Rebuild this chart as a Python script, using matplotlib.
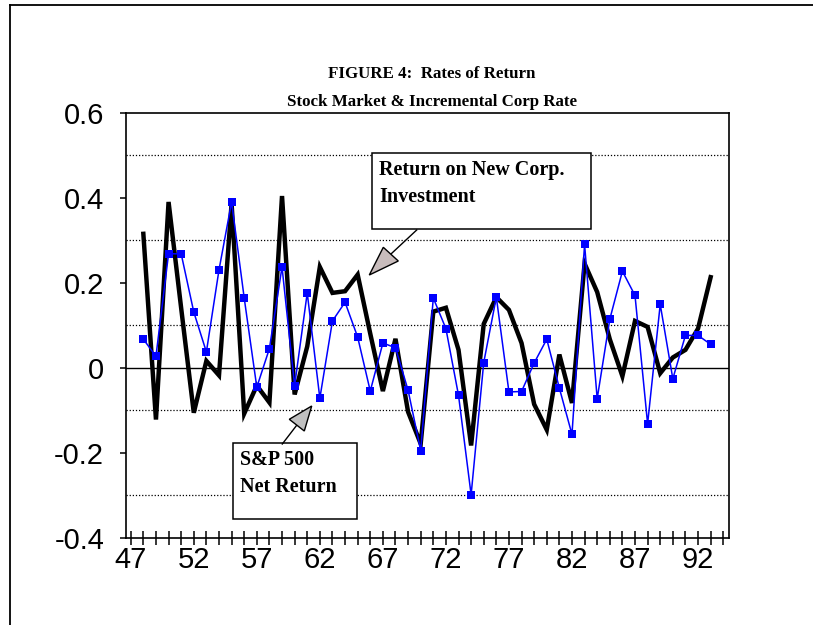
import matplotlib
matplotlib.use("Agg")
import matplotlib.pyplot as plt
from matplotlib.lines import Line2D
from matplotlib.patches import Rectangle, Polygon
from matplotlib.ticker import FixedLocator, MultipleLocator
import numpy as np

years = list(range(48, 94))
sp500_net_return = [0.067, 0.027, 0.268, 0.268, 0.131, 0.037, 0.23, 0.39, 0.164, -0.046,
                    0.045, 0.237, -0.042, 0.176, -0.072,
                    0.11, 0.154, 0.072, -0.055, 0.058, 0.047, -0.053, -0.195, 0.164,
                    0.092, -0.065, -0.299, 0.012, 0.166,
                    -0.057, -0.056, 0.011, 0.067, -0.048, -0.157, 0.29, -0.073, 0.114,
                    0.227, 0.17, -0.132, 0.149, -0.026, 0.076, 0.076, 0.055]
corp_return = [0.315, -0.122, 0.39, 0.14, -0.106, 0.016, -0.018, 0.386, -0.108, -0.042,
               -0.082, 0.404, -0.063, 0.05, 0.237,
               0.176, 0.18, 0.219, 0.08, -0.055, 0.068, -0.104, -0.179, 0.132,
               0.141, 0.042, -0.183, 0.103, 0.166,
               0.136, 0.058, -0.086, -0.146, 0.031, -0.083, 0.245, 0.178, 0.067,
               -0.02, 0.11, 0.096, -0.013, 0.024, 0.042, 0.092, 0.213]
x_labels = [47, 52, 57, 62, 67, 72, 77, 82, 87, 92]
y_ticks = [-0.4, -0.2, 0, 0.2, 0.4, 0.6]
grid_levels = [-0.3, -0.1, 0.1, 0.3, 0.5]

W, H = 813, 625
fig = plt.figure(figsize=(W / 100, H / 100), dpi=100)

def fx(px):
    return px / W

def fy(py):
    return 1 - py / H

ax = fig.add_axes([fx(125.7), fy(537.7), fx(729.3) - fx(125.7), fy(112.7) - fy(537.7)])
ax.set_xlim(46.6, 94.48)
ax.set_ylim(-0.4, 0.6)

for g in grid_levels:
    ax.axhline(g, color="black", lw=0.9, ls=(0, (1, 1.5)), zorder=1)
ax.axhline(0, color="black", lw=1.0, zorder=1)

ax.plot(years, corp_return, color="black", lw=3.2, solid_joinstyle="miter", zorder=3)
ax.plot(years, sp500_net_return, color="#0000FF", lw=1.1, marker="s", markersize=5.2,
        markeredgewidth=0, zorder=4)

for s in ax.spines.values():
    s.set_linewidth(1.2)

ax.yaxis.set_major_locator(FixedLocator(y_ticks))
ax.set_yticklabels(["-0.4", "-0.2", "0", "0.2", "0.4", "0.6"])
ax.xaxis.set_major_locator(FixedLocator(x_labels))
ax.xaxis.set_minor_locator(MultipleLocator(1))
ax.set_xticklabels([str(v) for v in x_labels])

ax.tick_params(axis="y", direction="out", length=4.5, width=1.1, pad=11,
               labelsize=21, labelfontfamily="Liberation Sans")
ax.tick_params(axis="x", which="both", direction="inout", length=9.5, width=1.1)
ax.tick_params(axis="x", which="major", pad=1, labelsize=21, labelfontfamily="Liberation Sans")

serif = dict(fontweight="bold", family="Liberation Serif")

# Title
fig.text(fx(432), fy(78), "FIGURE 4:  Rates of Return", ha="center", va="baseline",
         fontsize=12.2, **serif)
fig.text(fx(432), fy(106), "Stock Market & Incremental Corp Rate", ha="center", va="baseline",
         fontsize=12.2, **serif)

# Frame lines (left and top)
fig.add_artist(Line2D([fx(10), fx(10)], [fy(4.5), 0], color="black", lw=1.3))
fig.add_artist(Line2D([fx(10), 1], [fy(4.5), fy(4.5)], color="black", lw=1.3))

def box(x0, y0, x1, y1):
    fig.add_artist(Rectangle((fx(x0), fy(y1)), fx(x1) - fx(x0), fy(y0) - fy(y1),
                             transform=fig.transFigure, facecolor="white",
                             edgecolor="black", lw=1.1, zorder=5))

def arrow(start, tip, c1, c2, color):
    mid = ((c1[0] + c2[0]) / 2, (c1[1] + c2[1]) / 2)
    fig.add_artist(Line2D([fx(start[0]), fx(mid[0])], [fy(start[1]), fy(mid[1])],
                          color="black", lw=1.0, zorder=5))
    fig.add_artist(Polygon([(fx(tip[0]), fy(tip[1])), (fx(c1[0]), fy(c1[1])),
                            (fx(c2[0]), fy(c2[1]))], closed=True,
                           transform=fig.transFigure, facecolor=color,
                           edgecolor="black", lw=1.0, zorder=6))

box(372, 153, 591, 229)
fig.text(fx(379), fy(175), "Return on New Corp.", ha="left", va="baseline",
         fontsize=14.5, zorder=7, **serif)
fig.text(fx(379), fy(201.5), "Investment", ha="left", va="baseline",
         fontsize=14.5, zorder=7, **serif)
arrow((416.7, 230), (369.3, 275), (383.3, 247.3), (398.3, 261), "#c8bcbc")

box(233, 443, 357, 519)
fig.text(fx(240), fy(465), "S&P 500", ha="left", va="baseline",
         fontsize=14.5, zorder=7, **serif)
fig.text(fx(240), fy(491.5), "Net Return", ha="left", va="baseline",
         fontsize=14.5, zorder=7, **serif)
arrow((282.3, 444), (311.7, 406), (289.3, 419.3), (304.3, 431), "#c0c0c0")

fig.savefig("out.png", dpi=100)
